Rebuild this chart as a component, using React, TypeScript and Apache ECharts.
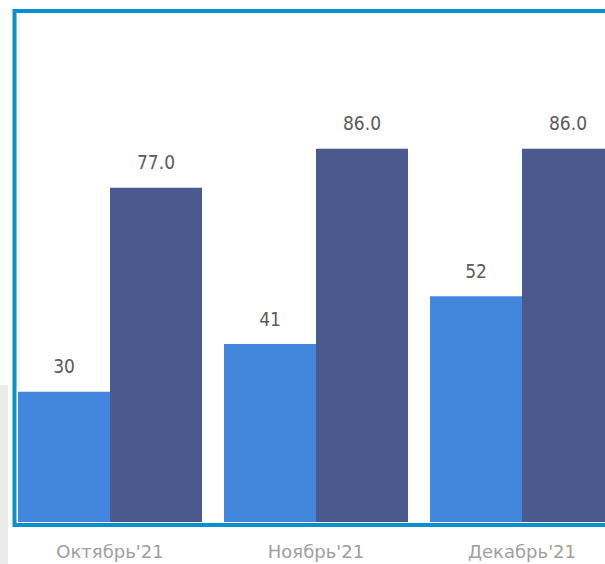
import React, { useEffect, useRef } from "react";
import * as echarts from "echarts";

const categories = ["Октябрь'21", "Ноябрь'21", "Декабрь'21"];
const seriesA = [30, 41, 52];
const seriesB = [77.0, 86.0, 86.0];

export default function App() {
  const ref = useRef<HTMLDivElement>(null);
  useEffect(() => {
    const chart = echarts.init(ref.current!, null, { renderer: "svg" });
    const labelBase = {
      show: true,
      position: "top" as const,
      distance: 16,
      color: "#5a5a5a",
      fontSize: 19,
      fontFamily: "'Liberation Sans Narrow', 'DejaVu Sans Condensed', Roboto, sans-serif",
    };
    chart.setOption({
      animation: false,
      backgroundColor: "#ffffff",
      grid: { left: 7, top: 88, bottom: 42, width: 618, outerBoundsMode: "none", containLabel: false },
      xAxis: {
        type: "category",
        data: categories,
        axisLine: { show: false },
        axisTick: { show: false },
        axisLabel: {
          margin: 20,
          color: "#a0a0a0",
          fontSize: 18,
          fontFamily: "'DejaVu Sans', sans-serif",
        },
      },
      yAxis: {
        type: "value",
        min: 0,
        max: 100,
        show: false,
        splitLine: { show: false },
      },
      series: [
        {
          type: "bar",
          data: seriesA,
          barWidth: 92,
          barGap: "0%",
          itemStyle: { color: "#4287dc" },
          label: { ...labelBase },
        },
        {
          type: "bar",
          data: seriesB,
          barWidth: 92,
          itemStyle: { color: "#4a5a8e" },
          label: { ...labelBase, formatter: (p: any) => Number(p.value).toFixed(1) },
        },
      ],
      graphic: [
        {
          type: "rect",
          shape: { x: 0, y: 385, width: 8, height: 179 },
          style: { fill: "#ebebeb" },
          z: 0,
        },
        {
          type: "rect",
          shape: { x: 14.5, y: 11, width: 700, height: 514 },
          style: { fill: "none", stroke: "#0a90cf", lineWidth: 4 },
          z: 100,
        },
      ],
    });
    return () => chart.dispose();
  }, []);
  return (
    <div
      ref={ref}
      style={{ position: "fixed", left: 0, top: 0, width: 605, height: 564 }}
    />
  );
}
